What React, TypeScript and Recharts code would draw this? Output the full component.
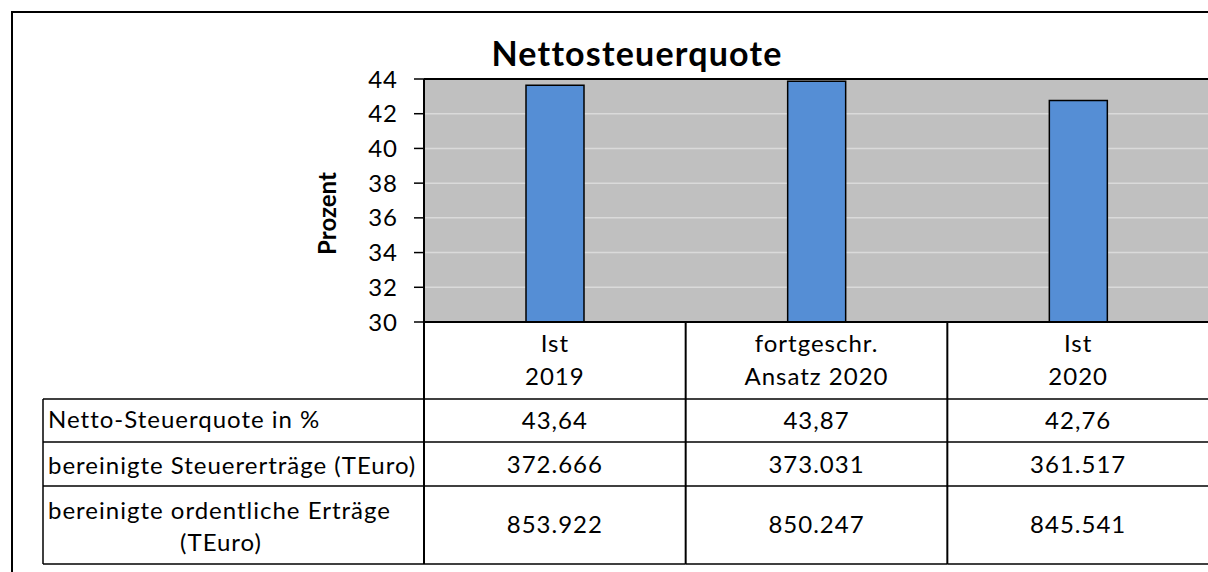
import React from 'react';
import { BarChart, Bar, XAxis, YAxis, CartesianGrid, ReferenceLine, Label } from 'recharts';

// ---------- data ----------
const categoriesLine1 = ['Ist', 'fortgeschr.', 'Ist'];
const categoriesLine2 = ['2019', 'Ansatz 2020', '2020'];
const quoteValues = [43.64, 43.87, 42.76];
const quoteLabels = ['43,64', '43,87', '42,76'];
const steuerLabels = ['372.666', '373.031', '361.517'];
const ertraegeLabels = ['853.922', '850.247', '845.541'];
const rowLabels = ['Netto-Steuerquote in %', 'bereinigte Steuererträge (TEuro)'];
const row3LabelLines = ['bereinigte ordentliche Erträge', '(TEuro)'];
const yTicks = [30, 32, 34, 36, 38, 40, 42, 44];
const title = 'Nettosteuerquote';
const yTitle = 'Prozent';

const data = categoriesLine1.map((c, i) => ({ key: i, value: quoteValues[i] }));
const tableRows = [quoteLabels, steuerLabels, ertraegeLabels];

// ---------- layout ----------
const FONT = 'Lato, "Noto Sans", sans-serif';
const CHART_W = 1230;
const CHART_H = 572;
const MARGIN = { top: 79, right: 21, bottom: 0, left: 0 };
const Y_AXIS_W = 424;
const X_AXIS_H = 250;
const PLOT_W = CHART_W - MARGIN.left - MARGIN.right - Y_AXIS_W;
const COL_W = PLOT_W / categoriesLine1.length;
const LABEL_COL_W = 381;
const ROW_LINES = [77, 120, 164, 242];
const FS = 24;
const LS = 1;

const txt = {
  fontFamily: FONT,
  fontSize: FS,
  fill: '#000',
  letterSpacing: LS,
} as const;

const TableTick = (props: any) => {
  const { x, y, index } = props;
  const i = typeof index === 'number' ? index : props.payload?.index ?? 0;
  const left = x - COL_W / 2;
  const right = x + COL_W / 2;
  const bottom = y + ROW_LINES[ROW_LINES.length - 1];
  const isLast = i === categoriesLine1.length - 1;
  const lx = left - LABEL_COL_W;
  return (
    <g>
      <line x1={left} y1={y} x2={left} y2={bottom} stroke="#000" strokeWidth={2} />
      {isLast && <line x1={right} y1={y} x2={right} y2={bottom} stroke="#000" strokeWidth={2} />}
      {ROW_LINES.map((ry) => (
        <line key={ry} x1={left} y1={y + ry} x2={right} y2={y + ry} stroke="#000" strokeWidth={1.5} />
      ))}
      <text x={x} y={y + 30} textAnchor="middle" {...txt}>{categoriesLine1[i]}</text>
      <text x={x} y={y + 63} textAnchor="middle" {...txt}>{categoriesLine2[i]}</text>
      <text x={x} y={y + 107} textAnchor="middle" {...txt}>{tableRows[0][i]}</text>
      <text x={x} y={y + 151} textAnchor="middle" {...txt}>{tableRows[1][i]}</text>
      <text x={x} y={y + 211} textAnchor="middle" {...txt}>{tableRows[2][i]}</text>
      {i === 0 && (
        <g>
          <line x1={lx} y1={y + ROW_LINES[0]} x2={lx} y2={bottom} stroke="#000" strokeWidth={1.5} />
          {ROW_LINES.map((ry) => (
            <line key={'l' + ry} x1={lx} y1={y + ry} x2={left} y2={y + ry} stroke="#000" strokeWidth={1.5} />
          ))}
          <text x={lx + 5} y={y + 106} {...txt}>{rowLabels[0]}</text>
          <text x={lx + 5} y={y + 152} {...txt}>{rowLabels[1]}</text>
          <text x={lx + 5} y={y + 197} {...txt}>{row3LabelLines[0]}</text>
          <text x={lx + 178} y={y + 229} textAnchor="middle" {...txt}>{row3LabelLines[1]}</text>
        </g>
      )}
    </g>
  );
};

const YTitle = (props: any) => {
  const vb = props.viewBox || { x: 0, y: MARGIN.top, width: Y_AXIS_W, height: 243 };
  const cx = vb.x + vb.width - 98;
  const cy = vb.y + vb.height / 2 + 13;
  return (
    <text
      x={cx}
      y={cy}
      transform={`rotate(-90, ${cx}, ${cy})`}
      textAnchor="middle"
      dominantBaseline="central"
      fontFamily={FONT}
      fontSize={FS}
      fontWeight="bold"
      fill="#000"
    >
      {yTitle}
    </text>
  );
};

export default function App() {
  return (
    <div
      style={{
        position: 'fixed',
        left: 0,
        top: 0,
        width: 1208,
        height: 572,
        overflow: 'hidden',
        background: '#fff',
      }}
    >
      <div
        style={{
          position: 'absolute',
          left: 11,
          top: 11,
          width: 1400,
          height: 800,
          border: '2px solid #000',
          boxSizing: 'border-box',
        }}
      />
      <div
        style={{
          position: 'absolute',
          left: 637,
          top: 31,
          transform: 'translateX(-50%)',
          fontFamily: FONT,
          fontSize: 34,
          fontWeight: 'bold',
          letterSpacing: 1.2,
          lineHeight: '44px',
          whiteSpace: 'nowrap',
          color: '#000',
        }}
      >
        {title}
      </div>
      <div style={{ position: 'absolute', left: 0, top: 0 }}>
        <BarChart width={CHART_W} height={CHART_H} data={data} margin={MARGIN} barCategoryGap={0}>
          <CartesianGrid vertical={false} fill="#C0C0C0" stroke="#DADADA" strokeWidth={1.5} />
          <XAxis
            dataKey="key"
            type="category"
            height={X_AXIS_H}
            interval={0}
            tickSize={0}
            tickMargin={0}
            tickLine={false}
            axisLine={{ stroke: '#000', strokeWidth: 2 }}
            tick={(p: any) => <TableTick {...p} />}
          />
          <YAxis
            width={Y_AXIS_W}
            domain={[30, 44]}
            ticks={yTicks}
            allowDataOverflow
            interval={0}
            tickSize={10}
            tickMargin={16}
            axisLine={{ stroke: '#000', strokeWidth: 2 }}
            tickLine={{ stroke: '#000', strokeWidth: 1.5 }}
            tick={{ fill: '#000', fontSize: FS, fontFamily: FONT, letterSpacing: LS }}
          >
            <Label content={<YTitle />} />
          </YAxis>
          <Bar
            dataKey="value"
            barSize={58}
            fill="#558ED5"
            stroke="#000"
            strokeWidth={1.5}
            isAnimationActive={false}
          />
          <ReferenceLine y={44} stroke="#000" strokeWidth={2} />
        </BarChart>
      </div>
    </div>
  );
}
